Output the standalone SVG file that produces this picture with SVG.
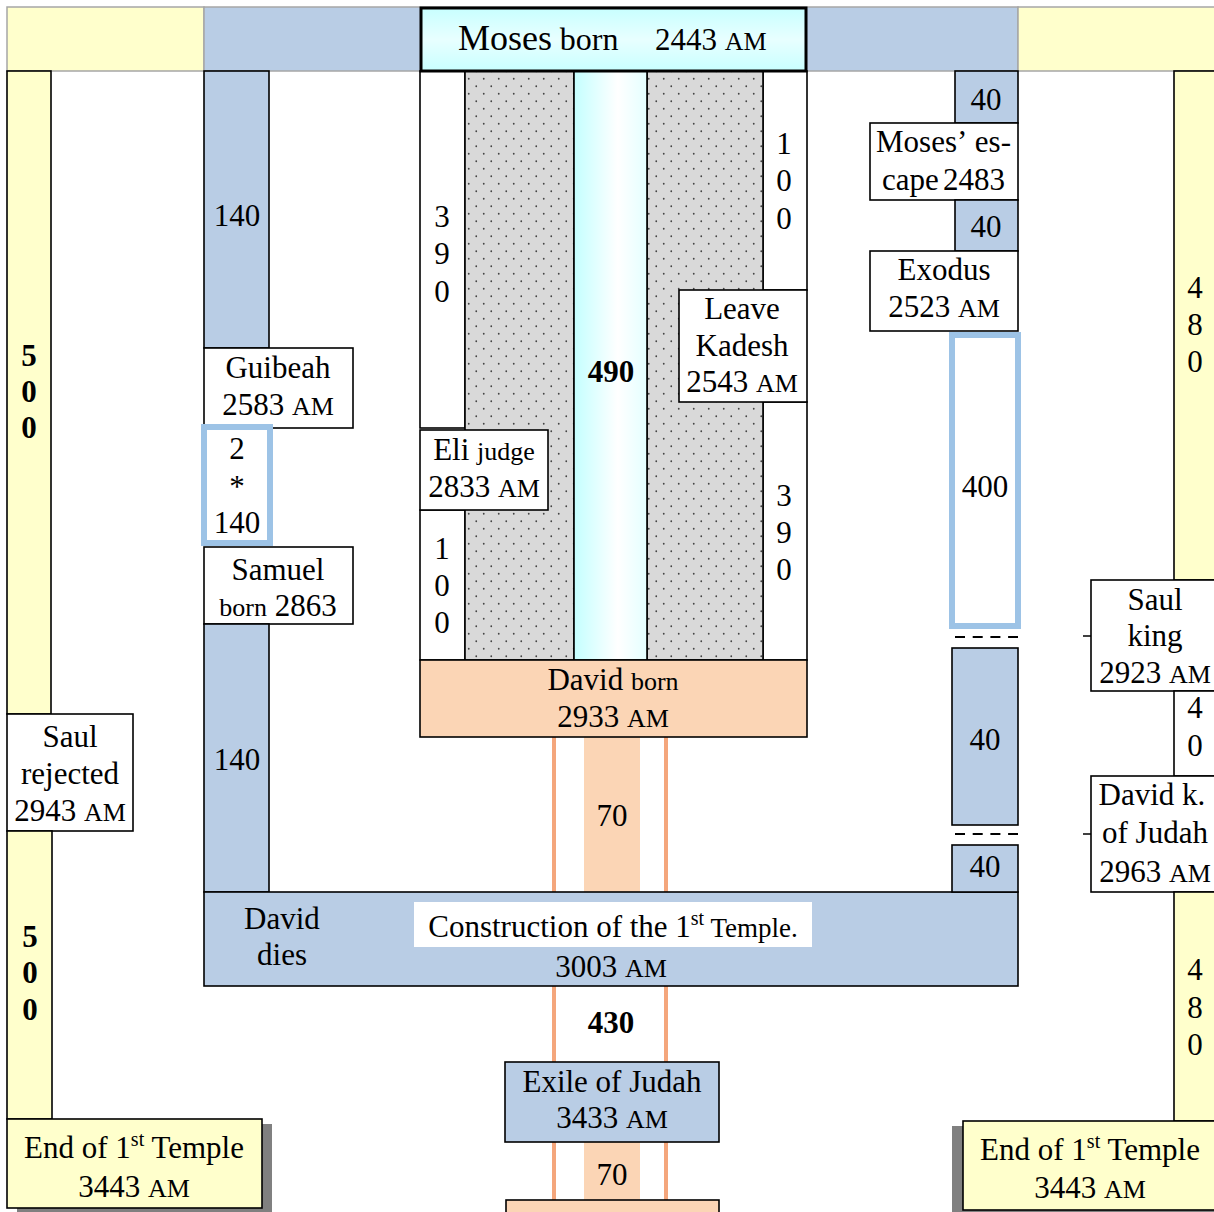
<svg xmlns="http://www.w3.org/2000/svg" width="1214" height="1212" viewBox="0 0 1214 1212">
<defs>
<style>
text{font-family:"Liberation Serif","Times New Roman",serif;font-size:31px;fill:#000}
.c{text-anchor:middle}
.e{text-anchor:end}
.b{font-weight:bold}
.sc{font-size:26px}
.sm{font-size:26px}
.sup{font-size:20px}
.box{stroke:#000;stroke-width:1.6}
.w{fill:#fff}
.y{fill:#ffffcc}
.bl{fill:#b9cde5}
.pe{fill:#fbd5b5}
.lb{fill:#fff;stroke:#9dc3e6;stroke-width:6}
.or{stroke:#f4a67c;stroke-width:4;fill:none}
.dash{stroke:#000;stroke-width:2;stroke-dasharray:10 7.7}
.sh{fill:#808080}
</style>
<pattern id="dots" width="15" height="15" patternUnits="userSpaceOnUse">
<rect width="15" height="15" fill="#d9d9d9"/>
<circle cx="3.75" cy="3.75" r="0.9" fill="#444"/>
<circle cx="11.25" cy="11.25" r="0.9" fill="#444"/>
</pattern>
<linearGradient id="cyanV" x1="0" y1="0" x2="1" y2="0">
<stop offset="0" stop-color="#c4ffff"/>
<stop offset="0.6" stop-color="#ffffff"/>
<stop offset="1" stop-color="#e4ffff"/>
</linearGradient>
<linearGradient id="cyanH" x1="0" y1="0" x2="0" y2="1">
<stop offset="0" stop-color="#c8ffff"/>
<stop offset="0.5" stop-color="#e8ffff"/>
<stop offset="1" stop-color="#c8ffff"/>
</linearGradient>
</defs>

<rect width="1214" height="1212" fill="#fff"/>

<!-- top band -->
<g id="top-band">
<rect x="7" y="7" width="197" height="64" class="y" stroke="#a6a6a6" stroke-width="1.5"/>
<rect x="204" y="7" width="814" height="64" class="bl" stroke="#a6a6a6" stroke-width="1.5"/>
<rect x="1018" y="7" width="200" height="64" class="y" stroke="#a6a6a6" stroke-width="1.5"/>
</g>

<!-- connectors -->
<g id="connectors">
<line x1="554" y1="737" x2="554" y2="1212" class="or"/>
<line x1="666" y1="737" x2="666" y2="1212" class="or"/>
<rect x="584" y="737" width="56" height="155" class="pe"/>
<rect x="584" y="1142" width="56" height="58" class="pe"/>
<line x1="955" y1="637" x2="1018" y2="637" class="dash"/>
<line x1="955" y1="834" x2="1018" y2="834" class="dash"/>
<line x1="1083" y1="636" x2="1091" y2="636" stroke="#000" stroke-width="1.5"/>
<line x1="1083" y1="834" x2="1091" y2="834" stroke="#000" stroke-width="1.5"/>
</g>

<!-- left 500 column -->
<g id="left-500-upper">
<rect x="7" y="71" width="44" height="643" class="y box"/>
<text x="29" y="366" class="c b">5</text>
<text x="29" y="402" class="c b">0</text>
<text x="29" y="438" class="c b">0</text>
</g>
<g id="saul-rejected">
<rect x="7" y="714" width="126" height="117" class="w box"/>
<text x="70" y="747" class="c">Saul</text>
<text x="70" y="784" class="c">rejected</text>
<text x="70" y="821" class="c">2943 <tspan class="sc">AM</tspan></text>
</g>
<g id="left-500-lower">
<rect x="7" y="831" width="45" height="288" class="y box"/>
<text x="30" y="947" class="c b">5</text>
<text x="30" y="983" class="c b">0</text>
<text x="30" y="1020" class="c b">0</text>
</g>
<g id="end-temple-left">
<rect x="17" y="1124" width="255" height="92" class="sh"/>
<rect x="7" y="1119" width="255" height="89" class="y box"/>
<text x="134" y="1158" class="c">End of 1<tspan class="sup" dy="-12">st</tspan><tspan dy="12"> Temple</tspan></text>
<text x="134" y="1197" class="c">3443 <tspan class="sc">AM</tspan></text>
</g>

<!-- left 140 columns -->
<g id="blue-140-upper">
<rect x="204" y="71" width="65" height="277" class="bl box"/>
<text x="237" y="226" class="c">140</text>
</g>
<g id="guibeah">
<rect x="204" y="348" width="149" height="80" class="w box"/>
<text x="278" y="378" class="c">Guibeah</text>
<text x="278" y="415" class="c">2583 <tspan class="sc">AM</tspan></text>
</g>
<g id="two-times-140">
<rect x="204" y="427" width="66" height="116" class="lb"/>
<text x="237" y="459" class="c">2</text>
<text x="237" y="497" class="c">*</text>
<text x="237" y="533" class="c">140</text>
</g>
<g id="samuel">
<rect x="204" y="547" width="149" height="77" class="w box"/>
<text x="278" y="580" class="c">Samuel</text>
<text x="278" y="616" class="c"><tspan class="sm">born</tspan> 2863</text>
</g>
<g id="blue-140-lower">
<rect x="204" y="624" width="65" height="268" class="bl box"/>
<text x="237" y="770" class="c">140</text>
</g>

<!-- central block -->
<g id="center-490">
<rect x="420" y="71" width="45" height="357" class="w box"/>
<rect x="420" y="510" width="45" height="150" class="w box"/>
<rect x="763" y="71" width="44" height="219" class="w box"/>
<rect x="763" y="402" width="44" height="258" class="w box"/>
<rect x="465" y="71" width="109" height="589" fill="url(#dots)" class="box"/>
<rect x="647" y="71" width="116" height="589" fill="url(#dots)" class="box"/>
<rect x="574" y="71" width="73" height="589" fill="url(#cyanV)" class="box"/>
<text x="611" y="382" class="c b">490</text>
<text x="442" y="227" class="c">3</text>
<text x="442" y="264" class="c">9</text>
<text x="442" y="302" class="c">0</text>
<text x="442" y="559" class="c">1</text>
<text x="442" y="596" class="c">0</text>
<text x="442" y="633" class="c">0</text>
<text x="784" y="154" class="c">1</text>
<text x="784" y="191" class="c">0</text>
<text x="784" y="229" class="c">0</text>
<text x="784" y="506" class="c">3</text>
<text x="784" y="543" class="c">9</text>
<text x="784" y="580" class="c">0</text>
</g>
<g id="moses-born">
<rect x="421" y="8" width="385" height="63" fill="url(#cyanH)" stroke="#000" stroke-width="3"/>
<text x="458" y="50"><tspan font-size="36">Moses</tspan> <tspan font-size="32">born</tspan></text>
<text x="655" y="50">2443 <tspan class="sc">AM</tspan></text>
</g>
<g id="eli-judge">
<rect x="420" y="430" width="128" height="80" class="w box"/>
<text x="484" y="460" class="c">Eli <tspan class="sm">judge</tspan></text>
<text x="484" y="497" class="c">2833 <tspan class="sc">AM</tspan></text>
</g>
<g id="leave-kadesh">
<rect x="679" y="290" width="128" height="112" class="w box"/>
<text x="742" y="319" class="c">Leave</text>
<text x="742" y="356" class="c">Kadesh</text>
<text x="742" y="392" class="c">2543 <tspan class="sc">AM</tspan></text>
</g>
<g id="david-born">
<rect x="420" y="660" width="387" height="77" class="pe box"/>
<text x="613" y="690" class="c">David <tspan class="sm">born</tspan></text>
<text x="613" y="727" class="c">2933 <tspan class="sc">AM</tspan></text>
<text x="612" y="826" class="c">70</text>
</g>

<!-- temple construction bar -->
<g id="construction">
<rect x="204" y="892" width="814" height="94" class="bl box"/>
<rect x="414" y="902" width="398" height="45" fill="#fff"/>
<text x="282" y="929" class="c">David</text>
<text x="282" y="965" class="c" font-size="28">dies</text>
<text x="613" y="937" class="c">Construction of the 1<tspan class="sup" dy="-12">st</tspan><tspan dy="12" font-size="27"> Temple.</tspan></text>
<text x="611" y="977" class="c">3003 <tspan class="sc">AM</tspan></text>
<text x="611" y="1033" class="c b">430</text>
</g>
<g id="exile">
<rect x="505" y="1062" width="214" height="80" class="bl box"/>
<text x="612" y="1092" class="c">Exile of Judah</text>
<text x="612" y="1128" class="c">3433 <tspan class="sc">AM</tspan></text>
<text x="612" y="1185" class="c">70</text>
</g>
<g id="bottom-box">
<rect x="506" y="1200" width="213" height="30" class="pe box"/>
</g>

<!-- right 400 column -->
<g id="blue-40-a">
<rect x="955" y="71" width="63" height="52" class="bl box"/>
<text x="986" y="110" class="c">40</text>
</g>
<g id="moses-escape">
<rect x="870" y="123" width="148" height="77" class="w box"/>
<text x="876" y="152">Moses’</text>
<text x="1011" y="152" class="e">es-</text>
<text x="882" y="190">cape</text>
<text x="1005" y="190" class="e">2483</text>
</g>
<g id="blue-40-b">
<rect x="955" y="200" width="63" height="51" class="bl box"/>
<text x="986" y="237" class="c">40</text>
</g>
<g id="exodus">
<rect x="870" y="251" width="148" height="80" class="w box"/>
<text x="944" y="280" class="c">Exodus</text>
<text x="944" y="317" class="c">2523 <tspan class="sc">AM</tspan></text>
</g>
<g id="span-400">
<rect x="952" y="335" width="66" height="291" class="lb"/>
<text x="985" y="497" class="c">400</text>
</g>
<g id="blue-40-c">
<rect x="952" y="648" width="66" height="177" class="bl box"/>
<text x="985" y="750" class="c">40</text>
</g>
<g id="blue-40-d">
<rect x="952" y="845" width="66" height="47" class="bl box"/>
<text x="985" y="877" class="c">40</text>
</g>

<!-- right 480 column -->
<g id="right-480-upper">
<rect x="1174" y="71" width="50" height="509" class="y box"/>
<text x="1195" y="298" class="c">4</text>
<text x="1195" y="335" class="c">8</text>
<text x="1195" y="372" class="c">0</text>
</g>
<g id="saul-king">
<rect x="1091" y="580" width="130" height="111" class="w box"/>
<text x="1155" y="610" class="c">Saul</text>
<text x="1155" y="646" class="c">king</text>
<text x="1155" y="683" class="c">2923 <tspan class="sc">AM</tspan></text>
</g>
<g id="span-40-right">
<rect x="1174" y="691" width="50" height="85" class="w box"/>
<text x="1195" y="718" class="c">4</text>
<text x="1195" y="756" class="c">0</text>
</g>
<g id="david-king">
<rect x="1091" y="776" width="130" height="116" class="w box"/>
<text x="1152" y="805" class="c">David k.</text>
<text x="1155" y="843" class="c">of Judah</text>
<text x="1155" y="882" class="c">2963 <tspan class="sc">AM</tspan></text>
</g>
<g id="right-480-lower">
<rect x="1174" y="892" width="50" height="229" class="y box"/>
<text x="1195" y="980" class="c">4</text>
<text x="1195" y="1018" class="c">8</text>
<text x="1195" y="1055" class="c">0</text>
</g>
<g id="end-temple-right">
<rect x="952" y="1126" width="270" height="92" class="sh"/>
<rect x="963" y="1121" width="260" height="89" class="y box"/>
<text x="1090" y="1160" class="c">End of 1<tspan class="sup" dy="-12">st</tspan><tspan dy="12"> Temple</tspan></text>
<text x="1090" y="1198" class="c">3443 <tspan class="sc">AM</tspan></text>
</g>
</svg>
